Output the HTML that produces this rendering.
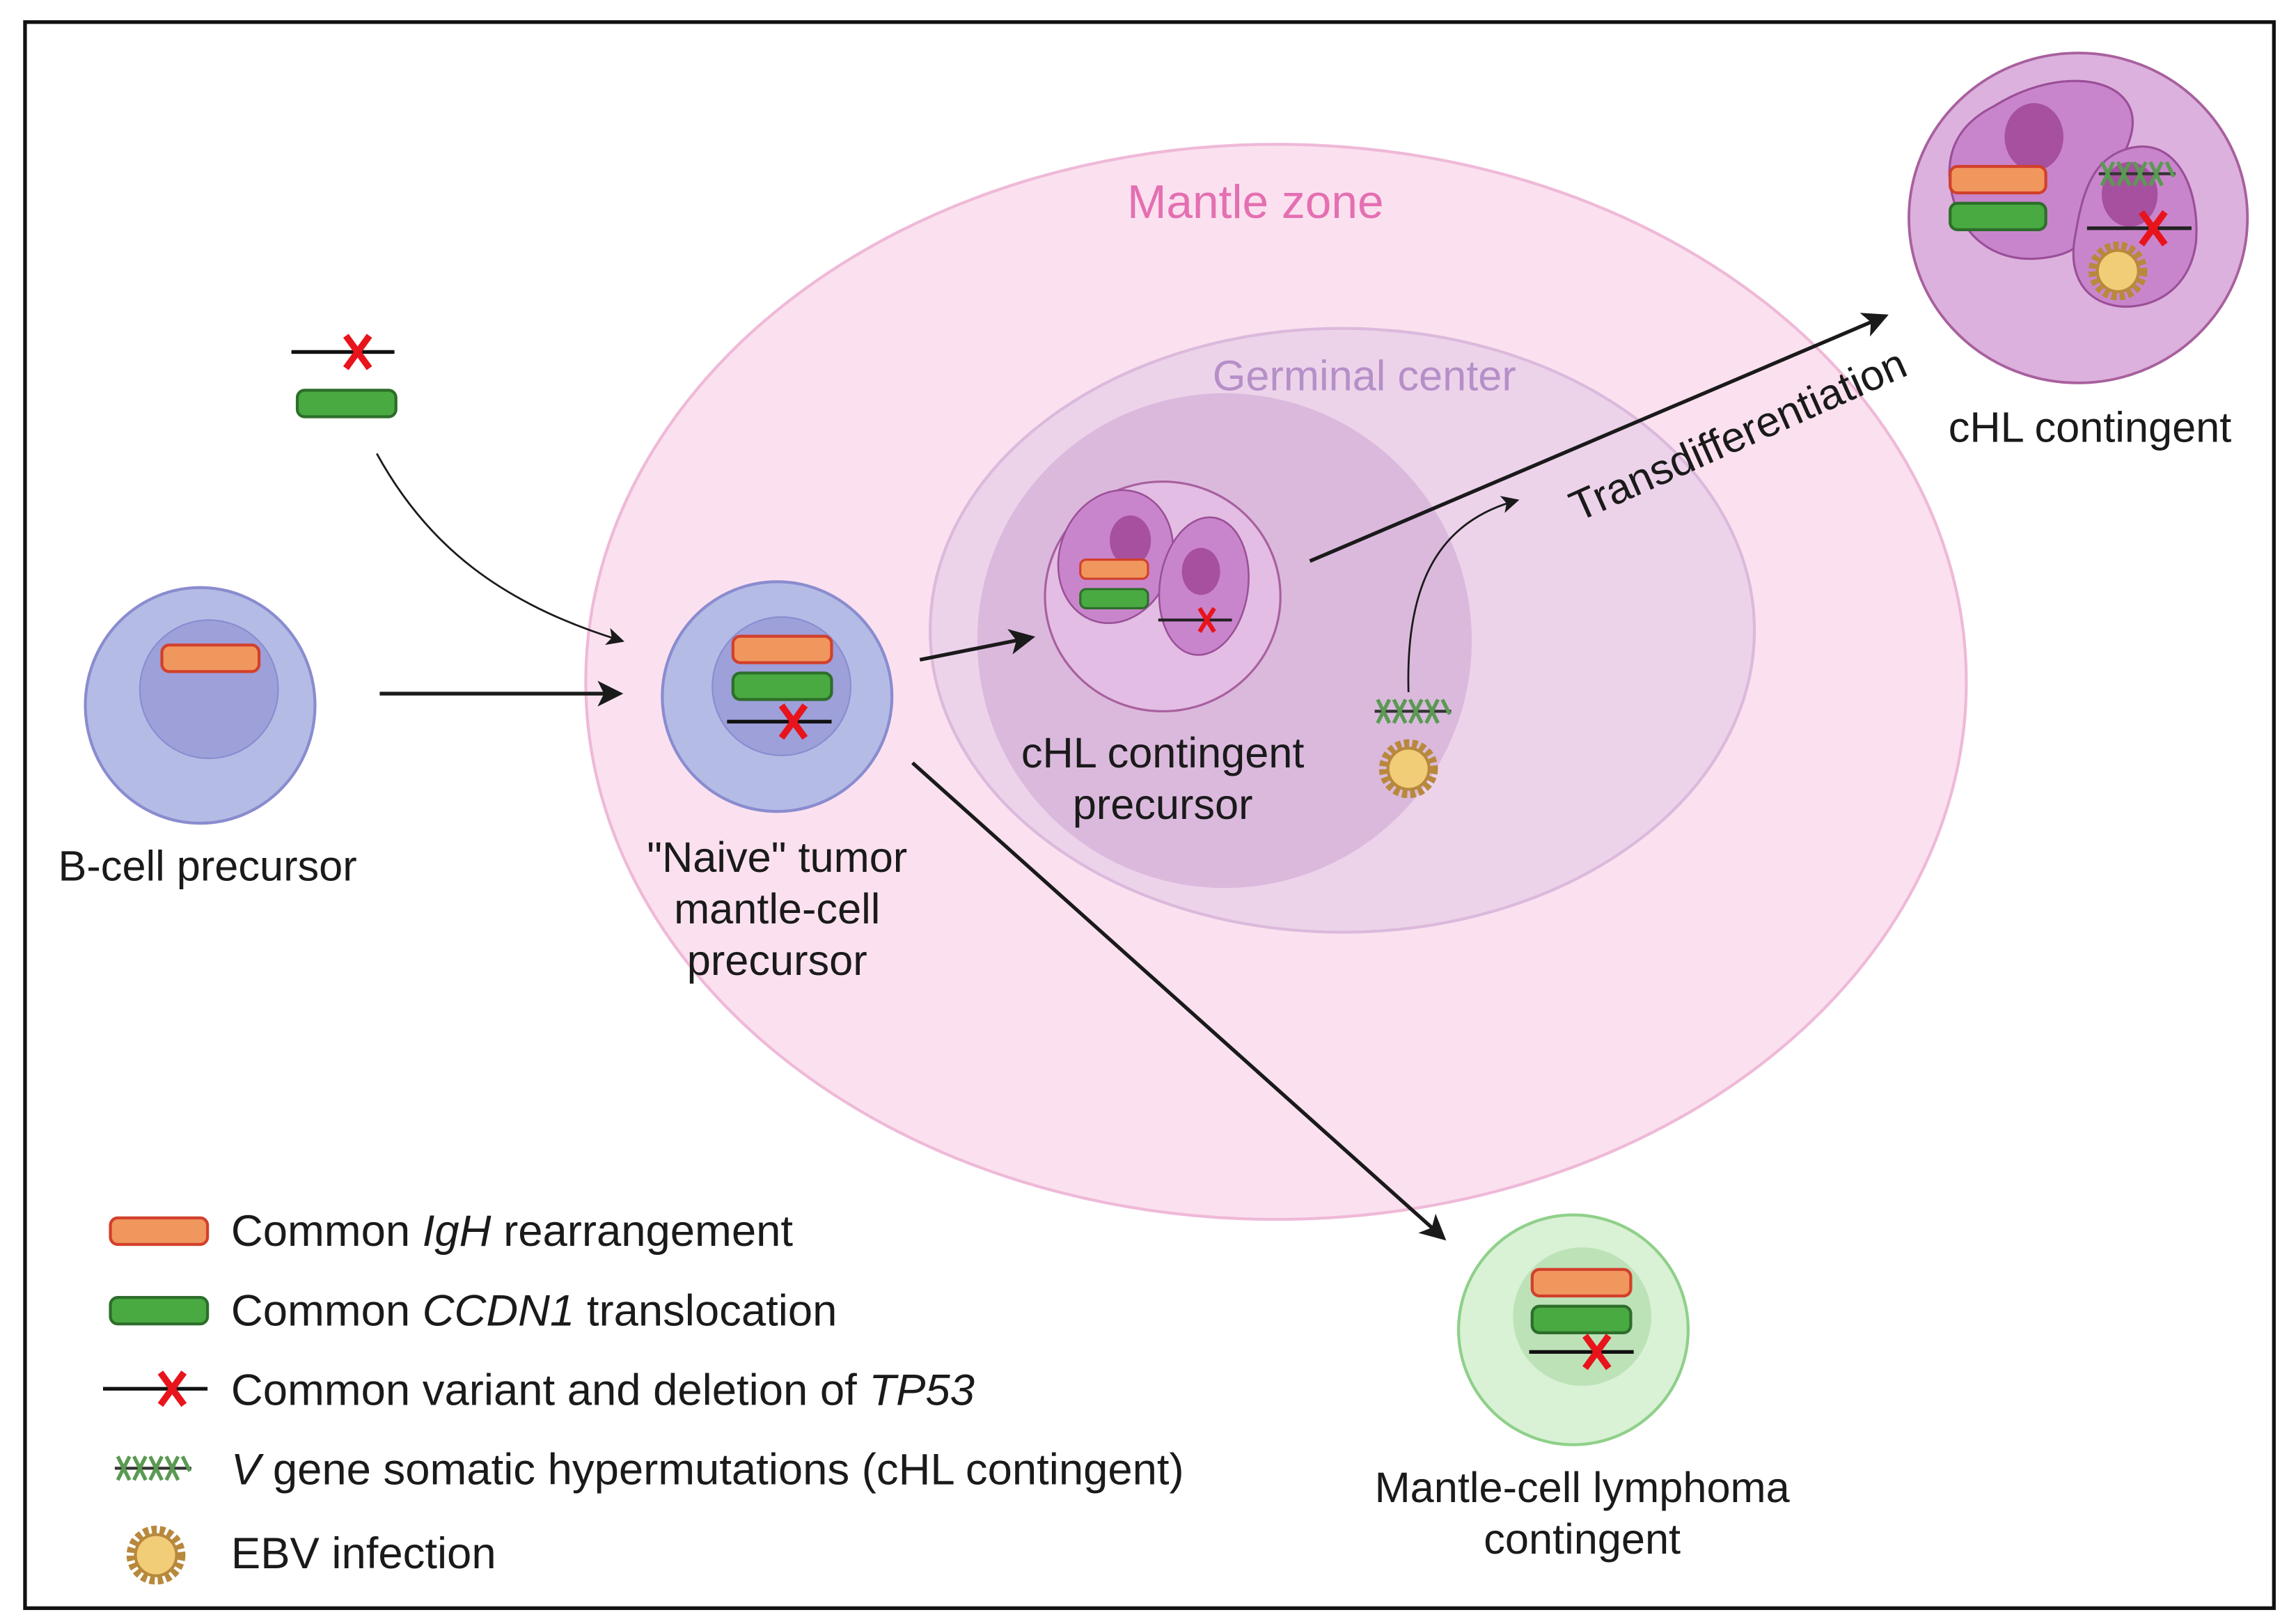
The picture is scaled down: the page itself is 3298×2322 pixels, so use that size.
<!DOCTYPE html>
<html><head><meta charset="utf-8"><style>
html,body{margin:0;padding:0;background:#fff;}
svg{display:block;}
text{font-family:"Liberation Sans",sans-serif;fill:#1a1a1a;}
</style></head><body>
<svg width="3298" height="2322" viewBox="0 0 1560 1098" preserveAspectRatio="none" xmlns="http://www.w3.org/2000/svg">
<defs>
<marker id="ah" viewBox="0 0 10 10" refX="8" refY="5" markerWidth="7" markerHeight="7" orient="auto"><path d="M0,0 L10,5 L0,10 L2.5,5 Z" fill="#1a1a1a"/></marker>
<marker id="ah2" viewBox="0 0 10 10" refX="8" refY="5" markerWidth="12" markerHeight="12" orient="auto" markerUnits="userSpaceOnUse"><path d="M0,0 L10,5 L0,10 L2.5,5 Z" fill="#1a1a1a"/></marker>
<g id="ebv"><circle r="17" fill="none" stroke="#b8893c" stroke-width="6" stroke-dasharray="3.5 2"/><circle r="15" fill="#b8893c"/><circle r="13" fill="#f2cd78"/></g>
<g id="shm"><line x1="-26" y1="0" x2="26" y2="0" stroke="#333" stroke-width="2"/><path d="M-24,-8 l8,16 M-16,-8 l-8,16 M-13,-8 l8,16 M-5,-8 l-8,16 M-2,-8 l8,16 M6,-8 l-8,16 M9,-8 l8,16 M17,-8 l-8,16 M20,-8 l5,10" stroke="#5a9a52" stroke-width="2.5" fill="none"/></g>
<g id="rx"><path d="M-8,-11 L8,11 M8,-11 L-8,11" stroke="#e8141c" stroke-width="4.5"/></g>
</defs>
<rect x="17" y="15" width="1528" height="1077" fill="#fff" stroke="#111" stroke-width="2.5"/>

<ellipse cx="867" cy="463" rx="469" ry="365" fill="#fbe1ef" stroke="#efb9d8" stroke-width="2"/>
<text x="853" y="148" font-size="32" text-anchor="middle" style="fill:#e46fb2">Mantle zone</text>
<ellipse cx="912" cy="428" rx="280" ry="205" fill="#ecd3ea" stroke="#dcb9dc" stroke-width="2"/>
<circle cx="832" cy="435" r="168" fill="#dbb9dd"/>
<text x="927" y="265" font-size="29" text-anchor="middle" style="fill:#b68fc8">Germinal center</text>

<line x1="198" y1="239" x2="268" y2="239" stroke="#111" stroke-width="2.5"/>
<use href="#rx" x="243" y="239"/>
<rect x="202" y="265" width="67" height="18" rx="5" fill="#4aaa42" stroke="#2d6e2a" stroke-width="2"/>

<ellipse cx="136" cy="479" rx="78" ry="80" fill="#b4bce6" stroke="#8a8ccf" stroke-width="2"/>
<circle cx="142" cy="468" r="47" fill="#9ea0da" stroke="#8a8ccf" stroke-width="1"/>
<rect x="110" y="438" width="66" height="18" rx="5" fill="#f0975e" stroke="#d2402c" stroke-width="2"/>
<text x="141" y="598" font-size="29" text-anchor="middle">B-cell precursor</text>

<circle cx="528" cy="473" r="78" fill="#b4bce6" stroke="#8a8ccf" stroke-width="2"/>
<circle cx="531" cy="466" r="47" fill="#9ea0da" stroke="#8a8ccf" stroke-width="1"/>
<rect x="498" y="432" width="67" height="18" rx="5" fill="#f0975e" stroke="#d2402c" stroke-width="2"/>
<rect x="498" y="457" width="67" height="18" rx="5" fill="#4aaa42" stroke="#2d6e2a" stroke-width="2"/>
<line x1="494" y1="490" x2="565" y2="490" stroke="#111" stroke-width="2.5"/>
<use href="#rx" x="539" y="490"/>
<text x="528" y="592" font-size="29" text-anchor="middle">"Naive" tumor</text>
<text x="528" y="627" font-size="29" text-anchor="middle">mantle-cell</text>
<text x="528" y="662" font-size="29" text-anchor="middle">precursor</text>

<ellipse cx="790" cy="405" rx="80" ry="78" fill="#e3bde3" stroke="#a8609e" stroke-width="1.5"/>
<ellipse cx="758" cy="378" rx="38" ry="46" transform="rotate(20 758 378)" fill="#c985cc" stroke="#9a4f98" stroke-width="1.2"/>
<ellipse cx="818" cy="398" rx="30" ry="47" transform="rotate(8 818 398)" fill="#c985cc" stroke="#9a4f98" stroke-width="1.2"/>
<ellipse cx="768" cy="367" rx="14" ry="17" fill="#a6509f"/>
<ellipse cx="816" cy="388" rx="13" ry="16" fill="#a6509f"/>
<rect x="734" y="380" width="46" height="13" rx="4" fill="#f0975e" stroke="#d2402c" stroke-width="1.5"/>
<rect x="734" y="400" width="46" height="13" rx="4" fill="#4aaa42" stroke="#2d6e2a" stroke-width="1.5"/>
<line x1="787" y1="421" x2="837" y2="421" stroke="#222" stroke-width="2"/>
<path d="M815,413 L825,429 M825,413 L815,429" stroke="#e8141c" stroke-width="3"/>
<text x="790" y="521" font-size="29" text-anchor="middle">cHL contingent</text>
<text x="790" y="556" font-size="29" text-anchor="middle">precursor</text>

<use href="#shm" x="960" y="483"/>
<use href="#ebv" x="957" y="522"/>

<ellipse cx="1412" cy="148" rx="115" ry="112" fill="#ddb1dd" stroke="#a8609e" stroke-width="1.8"/>
<path d="M1355,72 C1390,50 1430,50 1444,68 C1458,86 1440,110 1428,130 C1415,152 1425,170 1390,175 C1355,180 1330,160 1325,125 C1322,100 1333,83 1355,72 Z" fill="#c985cc" stroke="#9a4f98" stroke-width="1.5"/>
<path d="M1450,100 C1480,95 1495,130 1492,165 C1488,195 1465,210 1440,208 C1415,205 1405,185 1410,160 C1415,130 1422,105 1450,100 Z" fill="#c985cc" stroke="#9a4f98" stroke-width="1.5"/>
<ellipse cx="1382" cy="93" rx="20" ry="23" fill="#a6509f"/>
<ellipse cx="1447" cy="132" rx="19" ry="22" fill="#a6509f"/>
<rect x="1325" y="113" width="65" height="18" rx="5" fill="#f0975e" stroke="#d2402c" stroke-width="2"/>
<rect x="1325" y="138" width="65" height="18" rx="5" fill="#4aaa42" stroke="#2d6e2a" stroke-width="2"/>
<use href="#shm" x="1452" y="118"/>
<line x1="1418" y1="155" x2="1489" y2="155" stroke="#222" stroke-width="2.5"/>
<use href="#rx" x="1463" y="155"/>
<use href="#ebv" x="1439" y="184"/>
<text x="1420" y="300" font-size="29" text-anchor="middle">cHL contingent</text>

<circle cx="1069" cy="903" r="78" fill="#d9f1d5" stroke="#8fd08a" stroke-width="2"/>
<circle cx="1075" cy="894" r="47" fill="#bde2b8"/>
<rect x="1041" y="862" width="67" height="18" rx="5" fill="#f0975e" stroke="#d2402c" stroke-width="2"/>
<rect x="1041" y="887" width="67" height="18" rx="5" fill="#4aaa42" stroke="#2d6e2a" stroke-width="2"/>
<line x1="1039" y1="918" x2="1110" y2="918" stroke="#111" stroke-width="2.5"/>
<use href="#rx" x="1085" y="918"/>
<text x="1075" y="1020" font-size="29" text-anchor="middle">Mantle-cell lymphoma</text>
<text x="1075" y="1055" font-size="29" text-anchor="middle">contingent</text>

<g stroke="#1a1a1a" fill="none">
<path d="M256,308 C290,370 340,410 422,435" stroke-width="1.3" marker-end="url(#ah2)"/>
<line x1="258" y1="471" x2="420" y2="471" stroke-width="2.5" marker-end="url(#ah)"/>
<line x1="625" y1="448" x2="700" y2="433" stroke-width="2.5" marker-end="url(#ah)"/>
<line x1="620" y1="518" x2="980" y2="840" stroke-width="2.5" marker-end="url(#ah)"/>
<line x1="890" y1="381" x2="1280" y2="215" stroke-width="2.5" marker-end="url(#ah)"/>
<path d="M957,470 C955,400 975,355 1030,340" stroke-width="1.3" marker-end="url(#ah2)"/>
</g>
<text x="1182" y="305" font-size="29" text-anchor="middle" transform="rotate(-24 1182 298)">Transdifferentiation</text>

<rect x="75" y="827" width="66" height="18" rx="5" fill="#f0975e" stroke="#d2402c" stroke-width="2"/>
<text x="157" y="846" font-size="30">Common <tspan font-style="italic">IgH</tspan> rearrangement</text>
<rect x="75" y="881" width="66" height="18" rx="5" fill="#4aaa42" stroke="#2d6e2a" stroke-width="2"/>
<text x="157" y="900" font-size="30">Common <tspan font-style="italic">CCDN1</tspan> translocation</text>
<line x1="70" y1="943" x2="141" y2="943" stroke="#111" stroke-width="2.5"/>
<use href="#rx" x="117" y="943"/>
<text x="157" y="954" font-size="30">Common variant and deletion of <tspan font-style="italic">TP53</tspan></text>
<use href="#shm" x="104" y="997"/>
<text x="157" y="1008" font-size="30"><tspan font-style="italic">V</tspan> gene somatic hypermutations (cHL contingent)</text>
<use href="#ebv" x="106" y="1056"/>
<text x="157" y="1065" font-size="30">EBV infection</text>
</svg>
</body></html>
